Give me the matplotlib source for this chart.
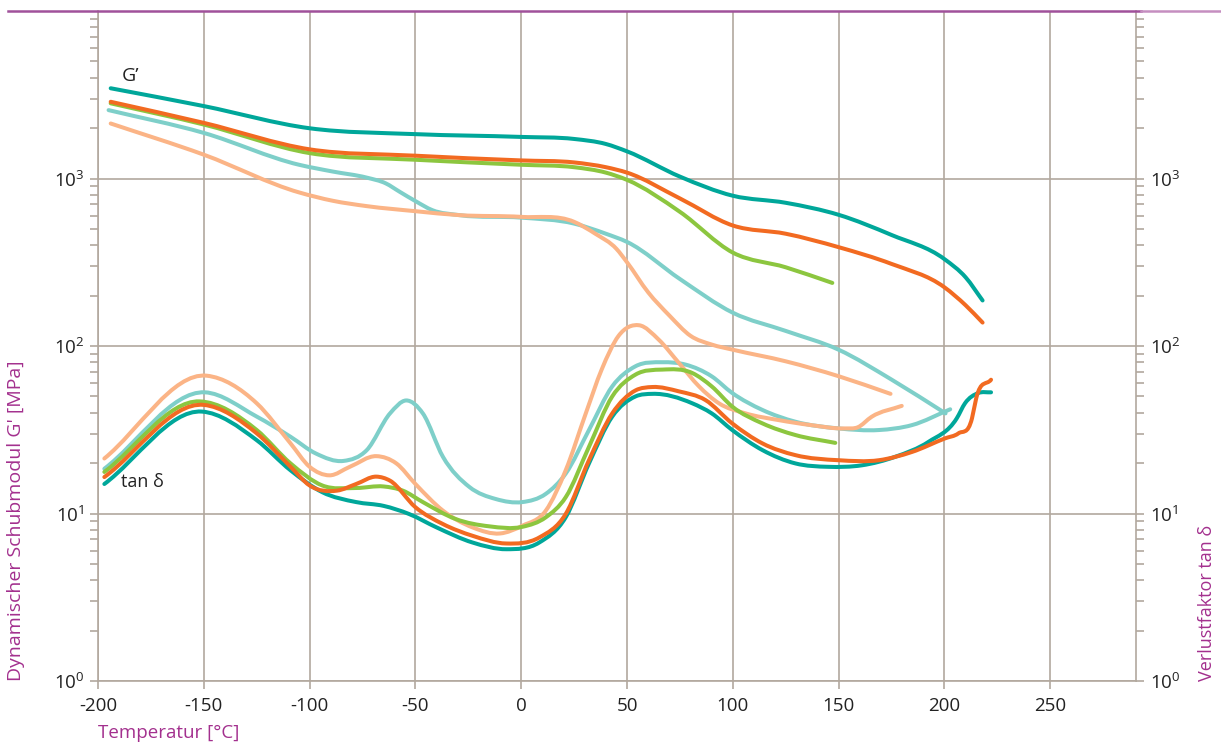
import matplotlib
matplotlib.use("Agg")
import numpy as np
import matplotlib.pyplot as plt
from matplotlib.lines import Line2D
from matplotlib.path import Path
from matplotlib.patches import PathPatch
from matplotlib.ticker import FixedLocator, NullFormatter

plt.rcParams["font.family"] = ["Open Sans", "DejaVu Sans"]
plt.rcParams["mathtext.fontset"] = "custom"
plt.rcParams["mathtext.rm"] = "Open Sans"
plt.rcParams["mathtext.it"] = "Open Sans:italic"

# ---- storage modulus G' [MPa] vs temperature [°C] ----
gp_teal_T = [-194, -150, -100, -50, 0, 25, 40, 50, 75, 100, 125, 150, 175, 200, 210, 218]
gp_teal_v = [3457, 2706, 1995, 1840, 1771, 1722, 1607, 1452, 1026, 789, 716, 607, 460, 330, 257, 187]

gp_orange_T = [-194, -150, -100, -50, 0, 25, 40, 50, 75, 100, 125, 150, 175, 200, 210, 218]
gp_orange_v = [2871, 2148, 1493, 1368, 1282, 1247, 1168, 1084, 760, 524, 468, 389, 309, 224, 175, 138]

gp_green_T = [-194, -150, -100, -50, 0, 25, 40, 50, 75, 100, 125, 147]
gp_green_v = [2811, 2100, 1418, 1294, 1208, 1168, 1084, 981, 632, 361, 295, 238]

gp_lteal_T = [-195, -150, -105, -89, -73, -64, -57.5, -50, -42, -29, 0, 25, 40, 50, 75, 100, 125, 150, 175, 200.5]
gp_lteal_v = [2560, 1871, 1208, 1100, 1012, 935, 834, 733, 647, 604, 584, 538, 468, 418, 251, 158, 123, 95, 63, 39.6]

gp_peach_T = [-194, -150, -105, -89, -73, -50, -29, 0, 25, 35, 45, 50, 60, 70, 80, 90, 100, 125, 150, 174.5]
gp_peach_v = [2130, 1387, 826, 736, 684, 638, 604, 590, 551, 468, 380, 316, 209, 152, 115, 102, 95, 81, 66, 51.8]

# ---- loss factor tan delta vs temperature [°C] ----
td_teal_T = [-197, -151, -125, -109, -94, -78, -65, -53, -40, -23, -7, 8.5, 21, 32, 43, 54, 62,
             80.8, 90, 99.7, 114, 129.6, 145, 161, 176.7, 192.5, 205.8, 209.7, 216, 222]
td_teal_v = [15.0, 40.6, 27.4, 18.1, 13.4, 11.7, 11.1, 9.93, 8.26, 6.71, 6.12, 6.71, 9.49, 19.9, 37.9, 50.0, 51.8,
             45.5, 39.6, 31.5, 23.9, 19.9, 19.0, 19.4, 21.8, 26.8, 37.0, 45.5, 52.4, 52.9]

td_orange_T = [-197, -150, -125, -109, -100, -87, -78, -68.5, -62, -50, -37, -23, -7, 8.5, 21, 32, 43, 54, 62,
               74.5, 87, 99.7, 114, 129.6, 150, 169, 184.6, 200.3, 206.6, 213, 215, 222]
td_orange_v = [16.5, 44.5, 30.1, 19.0, 14.7, 13.7, 15.0, 16.6, 15.7, 10.9, 8.65, 7.36, 6.62, 7.19, 9.93, 20.8, 39.6,
               54.3, 56.9, 53.6, 47.6, 34.5, 26.2, 22.3, 20.8, 20.8, 23.3, 28.1, 30.1, 37.0, 48.8, 62.9]

td_green_T = [-197, -152, -125, -109, -94, -78, -65, -56, -46.5, -31, -15, 0.6, 11.6, 21, 32, 43, 54, 66.7,
              80.8, 90, 99.7, 114, 129.6, 148.4]
td_green_v = [17.7, 46.7, 31.5, 19.9, 14.7, 14.2, 14.5, 13.7, 11.7, 9.27, 8.38, 8.33, 9.49, 12.5, 25.0, 50.0, 67.5,
              72.3, 69.0, 57.4, 43.5, 34.5, 29.4, 26.4]

td_lteal_T = [-197, -149.5, -125, -109, -97, -84, -73, -62, -54.4, -46.5, -37, -24.5, -12, 0.5, 11.6, 21, 32, 43,
              54, 66.7, 77.7, 90, 99.7, 114, 129.6, 150, 169, 184.6, 202.7]
td_lteal_v = [18.5, 52.9, 37.9, 28.7, 22.8, 20.6, 23.9, 39.6, 47.3, 39.6, 21.8, 14.4, 12.2, 11.7, 13.1, 17.3, 31.5,
              57.4, 75.7, 80.0, 77.4, 65.9, 52.4, 41.5, 35.3, 32.2, 31.5, 33.7, 41.9]

td_peach_T = [-197, -148.7, -125, -109, -100, -90.6, -81, -68.5, -59, -50, -37, -23, -10, 0.5, 11.6, 21, 30.5, 38,
              46, 55.7, 65, 74.5, 84, 93.4, 106, 121.7, 137, 153, 159, 165.6, 179.8]
td_peach_v = [21.3, 66.5, 45.5, 26.2, 19.0, 16.9, 19.0, 22.0, 19.9, 15.0, 10.4, 8.26, 7.60, 8.45, 10.4, 18.1, 39.6,
              72.3, 115, 133, 109, 79.2, 57.4, 45.5, 39.6, 36.1, 33.7, 32.2, 32.7, 37.8, 43.9]

x_ticks = [-200, -150, -100, -50, 0, 50, 100, 150, 200, 250]
y_major = [1, 10, 100, 1000]
y_labels = [r"$\mathregular{10^{0}}$", r"$\mathregular{10^{1}}$", r"$\mathregular{10^{2}}$", r"$\mathregular{10^{3}}$"]

C_TEAL = "#00a79a"
C_ORANGE = "#f26a21"
C_GREEN = "#8cc63f"
C_LTEAL = "#7ecfc9"
C_PEACH = "#fbb486"
C_GRID = "#b2a89e"
C_PURPLE = "#a3308e"
C_TEXT = "#222222"


def smooth_path(xs, ys):
    """Cubic Bezier path through the measured points; tangents are the
    spacing-weighted mean of the neighbouring slopes in temperature/log10 space."""
    x = np.asarray(xs, float)
    ly = np.log10(np.asarray(ys, float))
    h = np.diff(x)
    d = np.diff(ly) / h
    n = len(x)
    m = np.zeros(n)
    for k in range(1, n - 1):
        m[k] = (h[k] * d[k - 1] + h[k - 1] * d[k]) / (h[k - 1] + h[k])
    m[0] = d[0]
    m[-1] = d[-1]
    verts = [(x[0], ly[0])]
    codes = [Path.MOVETO]
    for i in range(n - 1):
        verts += [(x[i] + h[i] / 3, ly[i] + m[i] * h[i] / 3),
                  (x[i + 1] - h[i] / 3, ly[i + 1] - m[i + 1] * h[i] / 3),
                  (x[i + 1], ly[i + 1])]
        codes += [Path.CURVE4] * 3
    verts = np.array(verts)
    verts[:, 1] = 10 ** verts[:, 1]
    return Path(verts, codes)


fig = plt.figure(figsize=(12.21, 7.45), dpi=100)
ax = fig.add_axes([98 / 1221, 1 - 681 / 745, (1136 - 98) / 1221, (681 - 11) / 745])
ax.set_yscale("log")
ax.set_xlim(-200, 290.5)
ax.set_ylim(1, 1e4)

LW = 2.9
series = [
    (gp_lteal_T, gp_lteal_v, C_LTEAL), (gp_peach_T, gp_peach_v, C_PEACH),
    (gp_green_T, gp_green_v, C_GREEN), (gp_orange_T, gp_orange_v, C_ORANGE),
    (gp_teal_T, gp_teal_v, C_TEAL),
    (td_lteal_T, td_lteal_v, C_LTEAL), (td_peach_T, td_peach_v, C_PEACH),
    (td_green_T, td_green_v, C_GREEN), (td_teal_T, td_teal_v, C_TEAL),
    (td_orange_T, td_orange_v, C_ORANGE),
]
for xs, ys, col in series:
    patch = PathPatch(smooth_path(xs, ys), facecolor="none", edgecolor=col, lw=LW,
                      capstyle="round", joinstyle="round", zorder=3)
    ax.add_patch(patch)

# axes, ticks and grid
ax.set_xticks(x_ticks)
ax.set_xticklabels([str(t) for t in x_ticks])
ax.yaxis.set_major_locator(FixedLocator(y_major))
ax.set_yticklabels(y_labels)
minors = [mm * 10 ** dd for dd in range(0, 4) for mm in range(2, 10)]
ax.yaxis.set_minor_locator(FixedLocator(minors))
ax.yaxis.set_minor_formatter(NullFormatter())
ax.grid(True, which="major", color=C_GRID, lw=1.2, zorder=1)
ax.tick_params(axis="both", which="both", direction="out", color=C_GRID, width=1.2,
               labelsize=13.5, labelcolor=C_TEXT)
ax.tick_params(axis="y", which="both", length=6, left=True, right=True, labelleft=True, labelright=True, pad=4)
ax.tick_params(axis="x", which="major", length=5.5, pad=6)
for side in ("left", "right", "bottom"):
    ax.spines[side].set_color(C_GRID)
    ax.spines[side].set_linewidth(1.2)
ax.spines["top"].set_visible(False)

# headline rule along the top edge
fig.add_artist(Line2D([8 / 1221, 1141 / 1221], [1 - 11 / 745] * 2, color="#a0519b", lw=1.8,
                      transform=fig.transFigure))
fig.add_artist(Line2D([1141 / 1221, 1.0], [1 - 11 / 745] * 2, color="#c58ec0", lw=1.8,
                      transform=fig.transFigure))

# curve group labels
ax.text(-189, 4.1e3, "G\u2019", fontsize=14, color=C_TEXT, ha="left", va="center", zorder=4)
ax.text(-189, 15.4, "tan \u03b4", fontsize=13, color=C_TEXT, ha="left", va="center", zorder=4)

# axis titles
fig.text(98 / 1221, 1 - 733 / 745, "Temperatur [°C]", color=C_PURPLE, fontsize=13.5,
         ha="left", va="center")
fig.text(16 / 1221, 1 - 681 / 745, "Dynamischer Schubmodul G' [MPa]", color=C_PURPLE, fontsize=14,
         rotation=90, ha="center", va="bottom")
fig.text(1207 / 1221, 1 - 681 / 745, "Verlustfaktor tan \u03b4", color=C_PURPLE, fontsize=13,
         rotation=90, ha="center", va="bottom")

fig.savefig("out.png", dpi=100)
